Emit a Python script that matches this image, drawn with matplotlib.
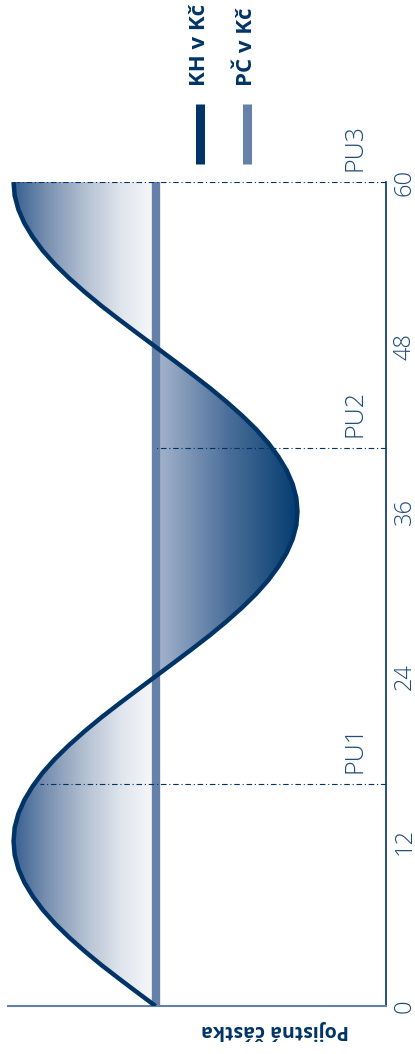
import numpy as np
import matplotlib
matplotlib.use('Agg')
import matplotlib.pyplot as plt
from matplotlib.colors import LinearSegmentedColormap
from matplotlib.path import Path

plt.rcParams['font.family'] = ['Open Sans', 'DejaVu Sans']

# months on the time axis, KH (cash value) and PC (sum insured)
months = list(range(0, 61))
kh = [100, 108.0, 115.9, 123.6, 130.8, 137.5, 143.6, 148.9, 153.3, 156.9, 159.5, 161.1, 161.6,
      161.1, 159.5, 156.9, 153.3, 148.9, 143.6, 137.5, 130.8, 123.6, 115.9, 108.0, 100,
      92.0, 84.1, 76.4, 69.2, 62.5, 56.4, 51.1, 46.7, 43.1, 40.5, 38.9, 38.4,
      38.9, 40.5, 43.1, 46.7, 51.1, 56.4, 62.5, 69.2, 76.4, 84.1, 92.0, 100,
      108.0, 115.9, 123.6, 130.8, 137.5, 143.6, 148.9, 153.3, 156.9, 159.5, 161.1, 161.6]
pc = [100] * len(months)

tick_months = [0, 12, 24, 36, 48, 60]
pu_labels = ['PU1', 'PU2', 'PU3']
pu_months = [16.2, 40.6, 60]
pu_reach = [150, 100, 160]

NAVY = '#003466'
STEEL = '#6581aa'
TXT = '#1f4a7a'

W, H = 415, 1054
fig = plt.figure(figsize=(W / 100, H / 100), dpi=100)
ax = fig.add_axes([8 / W, 1 - 1006 / H, (386 - 8) / W, (1006 - 182) / H])

t = np.array(months, dtype=float)
k = np.array(kh)
p = np.array(pc, dtype=float)

# gradient fills clipped to the lobes
upper = ax.fill_betweenx(t, p, k, where=k >= p, interpolate=True, facecolor='none', lw=0)
lower = ax.fill_betweenx(t, k, p, where=k <= p, interpolate=True, facecolor='none', lw=0)

cm_up = LinearSegmentedColormap.from_list('up', [(0, '#f8f9fb'), (0.25, '#dfe4ec'),
                                                 (0.5, '#b3bfd2'), (0.75, '#7d93b3'),
                                                 (1, '#375f8f')])
cm_low = LinearSegmentedColormap.from_list('low', [(0, '#003a6c'), (0.5, '#4a6e99'),
                                                   (1, '#a7b5ce')])
grad = np.linspace(0, 1, 256).reshape(1, -1)
im1 = ax.imshow(grad, cmap=cm_up, extent=(100, 162, 0, 60), aspect='auto',
                interpolation='bilinear', zorder=1)
im1.set_clip_path(Path.make_compound_path(*upper.get_paths()), ax.transData)
im2 = ax.imshow(grad, cmap=cm_low, extent=(37, 100, 0, 60), aspect='auto',
                interpolation='bilinear', zorder=1)
im2.set_clip_path(Path.make_compound_path(*lower.get_paths()), ax.transData)

ax.plot(p, t, color=STEEL, lw=6, solid_capstyle='butt', zorder=3)
ax.plot(k, t, color=NAVY, lw=3.2, solid_capstyle='butt', solid_joinstyle='round', zorder=4)

for lab, m, r in zip(pu_labels, pu_months, pu_reach):
    ax.hlines(m, 0, r, colors=NAVY, lw=0.8, linestyles=(0, (5, 2.5, 1, 2.5)), zorder=5)
    ax.text(13.4, m + 0.8, lab, rotation=90, ha='center', va='bottom',
            fontsize=18, color=TXT, fontweight='light')

ax.set_xlim(164, 0)
ax.set_ylim(0, 60)
ax.set_xticks([])
ax.yaxis.tick_right()
ax.set_yticks(tick_months)
ax.set_yticklabels([str(m) for m in tick_months], rotation=90, va='center',
                   fontsize=17, color=TXT, fontweight='light')
ax.tick_params(axis='y', length=0, pad=5)
ax.spines['top'].set_visible(False)
ax.spines['left'].set_visible(False)
ax.spines['right'].set_color(NAVY)
ax.spines['right'].set_linewidth(1.2)
ax.spines['bottom'].set_color(STEEL)
ax.spines['bottom'].set_linewidth(1.5)
ax.set_facecolor('none')

# legend drawn by hand (vertical)
def fx(x):
    return x / W

def fy(y):
    return 1 - y / H

fig.add_artist(plt.Line2D([fx(200), fx(200)], [fy(104), fy(164)], color=NAVY, lw=6.5,
                          solid_capstyle='butt'))
fig.add_artist(plt.Line2D([fx(247), fx(247)], [fy(104), fy(164)], color=STEEL, lw=6.5,
                          solid_capstyle='butt'))
fig.text(fx(199), fy(86), 'KH v Kč', rotation=90, ha='center', va='bottom',
         fontsize=16, fontweight='bold', color=NAVY)
fig.text(fx(246), fy(86), 'PČ v Kč', rotation=90, ha='center', va='bottom',
         fontsize=16, fontweight='bold', color=NAVY)
fig.text(fx(275), fy(1030), 'Pojistná částka', rotation=180, ha='center', va='center',
         fontsize=14, fontweight='bold', color=NAVY)

fig.savefig('out.png', dpi=100)
